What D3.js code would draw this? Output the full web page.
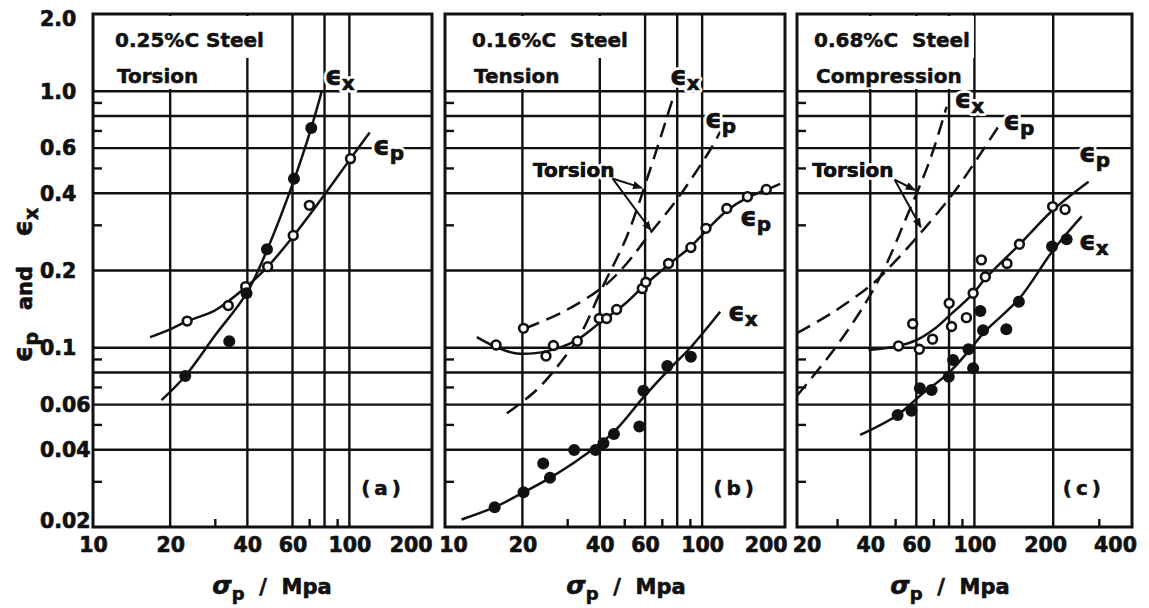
<!DOCTYPE html>
<html><head><meta charset="utf-8">
<script src="https://cdn.jsdelivr.net/npm/d3@7/dist/d3.min.js"></script>
<style>
html,body{margin:0;padding:0;background:#fff;}
svg{display:block;font-family:"DejaVu Sans",sans-serif;font-weight:bold;}
</style></head><body>
<svg id="chart" width="1149" height="608"></svg>
<script>
// ---------------- shared axis data ----------------
const yTickValues = [2.0, 1.0, 0.6, 0.4, 0.2, 0.1, 0.06, 0.04, 0.02];
const yTickLabels = ["2.0", "1.0", "0.6", "0.4", "0.2", "0.1", "0.06", "0.04", "0.02"];
const yGridValues = [1.0, 0.8, 0.6, 0.4, 0.2, 0.1, 0.08, 0.06, 0.04];
const yMinorValues = [0.9, 0.7, 0.5, 0.3, 0.09, 0.07, 0.05, 0.03];

// ---------------- panel (a): 0.25%C steel, torsion ----------------
const aXTicks = [10, 20, 40, 60, 100, 200];
const aXGrid = [20, 40, 60, 80, 100];
const aXMinor = [30, 70, 90];
const aOpenSigma = [23.3, 33.7, 39.4, 48.0, 60.4, 69.8, 101];
const aOpenEps   = [0.127, 0.146, 0.173, 0.207, 0.274, 0.359, 0.546];
const aFilledSigma = [22.9, 34.0, 39.7, 47.7, 60.8, 71.0];
const aFilledEps   = [0.0776, 0.106, 0.163, 0.242, 0.456, 0.719];
const aCurvePSigma = [16.7, 20, 23.3, 30, 39.4, 48, 60.4, 80, 101, 120];
const aCurvePEps   = [0.110, 0.118, 0.127, 0.140, 0.172, 0.207, 0.272, 0.395, 0.546, 0.69];
const aCurveXSigma = [18.5, 22.9, 30, 39.7, 47.7, 60.8, 71, 78];
const aCurveXEps   = [0.0625, 0.0776, 0.112, 0.163, 0.24, 0.45, 0.72, 1.0];

// ---------------- panel (b): 0.16%C steel, tension ----------------
const bXTicks = [10, 20, 40, 60, 100, 200];
const bXGrid = [20, 40, 60, 80, 100];
const bXMinor = [30, 50, 70, 90];
const bOpenSigma = [15.8, 20.2, 24.7, 26.4, 32.7, 39.8, 42.5, 46.5, 58.5, 60.4, 74.0, 90.4, 103.5, 124.7, 150, 177.6];
const bOpenEps   = [0.1025, 0.119, 0.0928, 0.102, 0.106, 0.130, 0.130, 0.141, 0.170, 0.180, 0.213, 0.246, 0.292, 0.349, 0.388, 0.414];
const bFilledSigma = [15.6, 20.2, 25.6, 24.1, 31.8, 38.5, 41.3, 45.4, 57.0, 59.1, 73.2, 90.4];
const bFilledEps   = [0.0239, 0.0273, 0.0311, 0.0354, 0.0399, 0.0399, 0.0424, 0.0461, 0.0493, 0.0680, 0.0849, 0.0923];
const bCurvePSigma = [13.3, 16, 19, 25, 32, 40, 50, 60, 75, 90, 105, 125, 150, 180, 201];
const bCurvePEps   = [0.110, 0.100, 0.095, 0.097, 0.106, 0.125, 0.148, 0.176, 0.213, 0.247, 0.29, 0.343, 0.385, 0.415, 0.435];
const bCurveXSigma = [11.6, 15.6, 20.2, 25.6, 33.5, 45.4, 59.1, 75, 90, 117.5];
const bCurveXEps   = [0.0214, 0.0239, 0.0273, 0.0311, 0.037, 0.047, 0.064, 0.083, 0.100, 0.138];
const bTorsionXSigma = [17.4, 22.7, 28, 33.5, 41.3, 50.9, 62.7, 77.3];
const bTorsionXEps   = [0.0555, 0.0684, 0.087, 0.112, 0.175, 0.271, 0.493, 0.952];
const bTorsionPSigma = [20.5, 28.8, 41.3, 50.9, 62.7, 79.6, 107.4, 117.5];
const bTorsionPEps   = [0.119, 0.138, 0.173, 0.213, 0.279, 0.377, 0.590, 0.695];

// ---------------- panel (c): 0.68%C steel, compression ----------------
const cXTicks = [20, 40, 60, 100, 200, 400];
const cXGrid = [40, 60, 80, 100, 200];
const cXMinor = [30, 50, 70, 90, 300];
const cOpenSigma = [51.3, 58.1, 61.6, 69.2, 80.1, 81.8, 93.2, 98.9, 106.3, 110.1, 133.2, 148.6, 199, 222];
const cOpenEps   = [0.1016, 0.124, 0.0986, 0.108, 0.149, 0.121, 0.131, 0.163, 0.220, 0.189, 0.213, 0.253, 0.355, 0.346];
const cFilledSigma = [50.9, 57.5, 61.9, 68.6, 79.8, 82.9, 94.9, 98.9, 107.9, 105.4, 132.4, 147.9, 198, 225];
const cFilledEps   = [0.0547, 0.0568, 0.0695, 0.0684, 0.0771, 0.0896, 0.0986, 0.0831, 0.117, 0.139, 0.118, 0.151, 0.248, 0.265];
const cCurvePSigma = [39.4, 51.3, 60, 70, 80, 99, 110, 150, 200, 273];
const cCurvePEps   = [0.098, 0.1016, 0.107, 0.118, 0.133, 0.163, 0.186, 0.255, 0.345, 0.444];
const cCurveXSigma = [36.6, 50.9, 62, 80, 95, 110, 148, 200, 257];
const cCurveXEps   = [0.0457, 0.0547, 0.065, 0.080, 0.097, 0.116, 0.155, 0.24, 0.325];
const cTorsionXSigma = [21, 29, 37.7, 45, 55.1, 67.6, 78.3];
const cTorsionXEps   = [0.065, 0.098, 0.145, 0.201, 0.324, 0.539, 0.870];
const cTorsionPSigma = [21, 29, 41.5, 50.4, 63.8, 83, 101.8, 124.8];
const cTorsionPEps   = [0.114, 0.138, 0.18, 0.22, 0.288, 0.40, 0.54, 0.74];

// ---------------- build ----------------
const zip = (xs, ys) => xs.map((x, i) => [x, ys[i]]);
const svg = d3.select("#chart");
const Y = d3.scaleLog().domain([0.02, 2]).range([527, 14]);
const INK = "#111";
const BOLD = 0.7; // extra stroke to mimic the heavy printed lettering

const defs = svg.append("defs");
defs.append("marker").attr("id", "arr").attr("viewBox", "0 0 10 10")
  .attr("refX", 9).attr("refY", 5).attr("markerWidth", 10).attr("markerHeight", 10)
  .attr("markerUnits", "userSpaceOnUse").attr("orient", "auto")
  .append("path").attr("d", "M0,1 L10,5 L0,9 Z").attr("fill", INK);

const panels = [
  { x0: 93, x1: 432, domain: [10, 210], ticks: aXTicks, tickDx: {200: -16}, grid: aXGrid, minor: aXMinor,
    title: ["0.25%C Steel", "Torsion"], titleDx: 22, tag: "(a)", axisTitleX: 272,
    curves: [{s: aCurvePSigma, e: aCurvePEps}, {s: aCurveXSigma, e: aCurveXEps}],
    open: zip(aOpenSigma, aOpenEps), filled: zip(aFilledSigma, aFilledEps),
    labels: [{sub: "x", at: [80.4, 1.06]}, {sub: "p", at: [123.6, 0.564]}], torsion: null },
  { x0: 445, x1: 785, domain: [10, 210], ticks: bXTicks, tickDx: {10: 8, 200: -14}, grid: bXGrid, minor: bXMinor,
    title: ["0.16%C  Steel", "Tension"], titleDx: 27, tag: "(b)", axisTitleX: 626,
    curves: [{s: bCurvePSigma, e: bCurvePEps}, {s: bCurveXSigma, e: bCurveXEps},
             {s: bTorsionXSigma, e: bTorsionXEps, dash: true}, {s: bTorsionPSigma, e: bTorsionPEps, dash: true}],
    open: zip(bOpenSigma, bOpenEps), filled: zip(bFilledSigma, bFilledEps),
    labels: [{sub: "x", at: [75.0, 1.06]}, {sub: "p", at: [102.6, 0.718]}, {sub: "p", at: [140.2, 0.298]}, {sub: "x", at: [126.1, 0.127]}],
    torsion: {at: [22.0, 0.463], from: [44.8, 0.457], to: [[58.3, 0.42], [63.2, 0.287]]} },
  { x0: 797, x1: 1132, domain: [21, 400], ticks: cXTicks, tickDx: {20: 15, 200: -8, 400: -17}, grid: cXGrid, minor: cXMinor,
    title: ["0.68%C  Steel", "Compression"], titleDx: 17, tag: "(c)", axisTitleX: 950,
    curves: [{s: cCurvePSigma, e: cCurvePEps}, {s: cCurveXSigma, e: cCurveXEps},
             {s: cTorsionXSigma, e: cTorsionXEps, dash: true}, {s: cTorsionPSigma, e: cTorsionPEps, dash: true}],
    open: zip(cOpenSigma, cOpenEps), filled: zip(cFilledSigma, cFilledEps),
    labels: [{sub: "x", at: [83.9, 0.86]}, {sub: "p", at: [128.9, 0.706]}, {sub: "p", at: [250.7, 0.53]}, {sub: "x", at: [250.7, 0.24]}],
    torsion: {at: [24.0, 0.463], from: [49.6, 0.452], to: [[59.2, 0.412], [62.4, 0.295]]} }
];

function heavy(sel, w) { return sel.attr("stroke", INK).attr("stroke-width", w == null ? BOLD : w).attr("stroke-linejoin", "round"); }
function halo(sel) { return sel.attr("stroke", "#fff").attr("stroke-width", 6).attr("paint-order", "stroke").attr("stroke-linejoin", "round"); }

function epsLabel(g, x, y, sub) {
  // white halo copy underneath, then heavy ink copy
  [true, false].forEach(isHalo => {
    const t = g.append("text").attr("x", x).attr("y", y).attr("fill", isHalo ? "#fff" : INK);
    if (isHalo) halo(t); else heavy(t);
    t.append("tspan").attr("font-size", 26).text("ϵ");
    t.append("tspan").attr("font-size", 20).attr("dy", 5).text(sub);
  });
}

panels.forEach(p => {
  const X = d3.scaleLog().domain(p.domain).range([p.x0, p.x1]);
  const g = svg.append("g");
  const top = Y.range()[1], bot = Y.range()[0];

  // horizontal grid
  g.selectAll(".hg").data(yGridValues).join("line")
    .attr("x1", p.x0).attr("x2", p.x1).attr("y1", d => Y(d)).attr("y2", d => Y(d))
    .attr("stroke", INK).attr("stroke-width", 2.4);
  // vertical grid
  g.selectAll(".vg").data(p.grid).join("line")
    .attr("x1", d => X(d)).attr("x2", d => X(d)).attr("y1", top).attr("y2", bot)
    .attr("stroke", INK).attr("stroke-width", 2.4);
  // minor ticks
  g.selectAll(".ym").data(yMinorValues).join("line")
    .attr("x1", p.x0).attr("x2", p.x0 + 9).attr("y1", d => Y(d)).attr("y2", d => Y(d))
    .attr("stroke", INK).attr("stroke-width", 2.4);
  g.selectAll(".xm").data(p.minor).join("line")
    .attr("x1", d => X(d)).attr("x2", d => X(d)).attr("y1", bot).attr("y2", bot - 8)
    .attr("stroke", INK).attr("stroke-width", 2.4);

  // titles with knock-out background
  const tg = g.append("g");
  const t1 = heavy(tg.append("text").attr("x", p.x0 + p.titleDx).attr("y", 47).attr("font-size", 20).attr("fill", INK)
    .style("white-space", "pre").text(p.title[0]), 0.5);
  const t2 = heavy(tg.append("text").attr("x", p.x0 + p.titleDx + 2).attr("y", 83).attr("font-size", 20).attr("fill", INK).text(p.title[1]), 0.5);
  const b1 = t1.node().getBBox(), b2 = t2.node().getBBox();
  tg.insert("rect", "text").attr("x", b1.x - 4).attr("y", top + 2).attr("width", b1.width + 8).attr("height", 58 - top - 2).attr("fill", "#fff");
  tg.insert("rect", "text").attr("x", b2.x - 4).attr("y", 58).attr("width", b2.width + 8).attr("height", 31).attr("fill", "#fff");

  // border
  g.append("rect").attr("x", p.x0).attr("y", top).attr("width", p.x1 - p.x0).attr("height", bot - top)
    .attr("fill", "none").attr("stroke", INK).attr("stroke-width", 3);

  // curves
  const line = d3.line().x(d => X(d[0])).y(d => Y(d[1])).curve(d3.curveCatmullRom.alpha(0.5));
  p.curves.forEach(c => {
    g.append("path").attr("d", line(zip(c.s, c.e))).attr("fill", "none").attr("stroke", INK)
      .attr("stroke-width", 2.5).attr("stroke-dasharray", c.dash ? "15,8" : null);
  });

  // points
  g.selectAll(".op").data(p.open).join("circle")
    .attr("cx", d => X(d[0])).attr("cy", d => Y(d[1])).attr("r", 4.4)
    .attr("fill", "#fff").attr("stroke", INK).attr("stroke-width", 2.6);
  g.selectAll(".fp").data(p.filled).join("circle")
    .attr("cx", d => X(d[0])).attr("cy", d => Y(d[1])).attr("r", 6).attr("fill", INK);

  // torsion annotation
  if (p.torsion) {
    const tt = p.torsion;
    const tx = g.append("text").attr("x", X(tt.at[0])).attr("y", Y(tt.at[1])).attr("font-size", 20).attr("fill", INK)
      .attr("stroke", "#fff").attr("stroke-width", 6).attr("paint-order", "stroke").attr("stroke-linejoin", "round").text("Torsion");
    heavy(g.append("text").attr("x", X(tt.at[0])).attr("y", Y(tt.at[1])).attr("font-size", 20).attr("fill", INK).text("Torsion"), 0.5);
    tt.to.forEach(d => {
      g.append("line").attr("x1", X(tt.from[0])).attr("y1", Y(tt.from[1])).attr("x2", X(d[0])).attr("y2", Y(d[1]))
        .attr("stroke", INK).attr("stroke-width", 2).attr("marker-end", "url(#arr)");
    });
  }

  // curve labels
  p.labels.forEach(l => epsLabel(g, X(l.at[0]), Y(l.at[1]), l.sub));

  // tag
  heavy(g.append("text").attr("x", p.x1 - 27).attr("y", 495).attr("text-anchor", "end").attr("font-size", 20)
    .attr("letter-spacing", 4).attr("fill", INK).text(p.tag), 0.5);

  // x axis labels
  const ax = svg.append("g").attr("transform", `translate(0,${bot})`)
    .call(d3.axisBottom(X).tickValues(p.ticks).tickSize(0).tickPadding(10).tickFormat(d3.format("d")));
  ax.select(".domain").remove();
  heavy(ax.selectAll("text").attr("font-size", 20.5).attr("font-family", "DejaVu Sans").attr("font-weight", "bold").attr("fill", INK)
    .attr("dx", d => p.tickDx[d] || 0));

  // x axis title
  const xt = heavy(svg.append("text").attr("x", p.axisTitleX).attr("y", 594).attr("text-anchor", "middle")
    .attr("font-size", 21).attr("fill", INK), 0.6);
  xt.append("tspan").attr("font-size", 25).attr("font-style", "italic").text("σ");
  xt.append("tspan").attr("font-size", 18).attr("dy", 6).text("p");
  xt.append("tspan").attr("dy", -6).style("white-space", "pre").text("  /  Mpa");
});

// y axis labels (left of panel a)
heavy(svg.append("g").selectAll("text").data(yTickValues).join("text")
  .attr("x", 40).attr("y", d => Y(d)).attr("dy", (d, i) => i === 0 ? "0.6em" : (i === yTickValues.length - 1 ? "0.05em" : "0.36em"))
  .attr("font-size", 20.5).attr("fill", INK).text((d, i) => yTickLabels[i]));

// y axis title (rotated)
const yt = heavy(svg.append("text").attr("transform", "translate(32,285) rotate(-90)").attr("text-anchor", "middle")
  .attr("font-size", 21).attr("fill", INK), 0.6);
yt.append("tspan").attr("font-size", 26).text("ϵ");
yt.append("tspan").attr("font-size", 19).attr("dy", 6).text("p");
yt.append("tspan").attr("dy", -6).style("white-space", "pre").text("   and    ");
yt.append("tspan").attr("font-size", 26).text("ϵ");
yt.append("tspan").attr("font-size", 19).attr("dy", 6).text("x");
</script>
</body></html>
